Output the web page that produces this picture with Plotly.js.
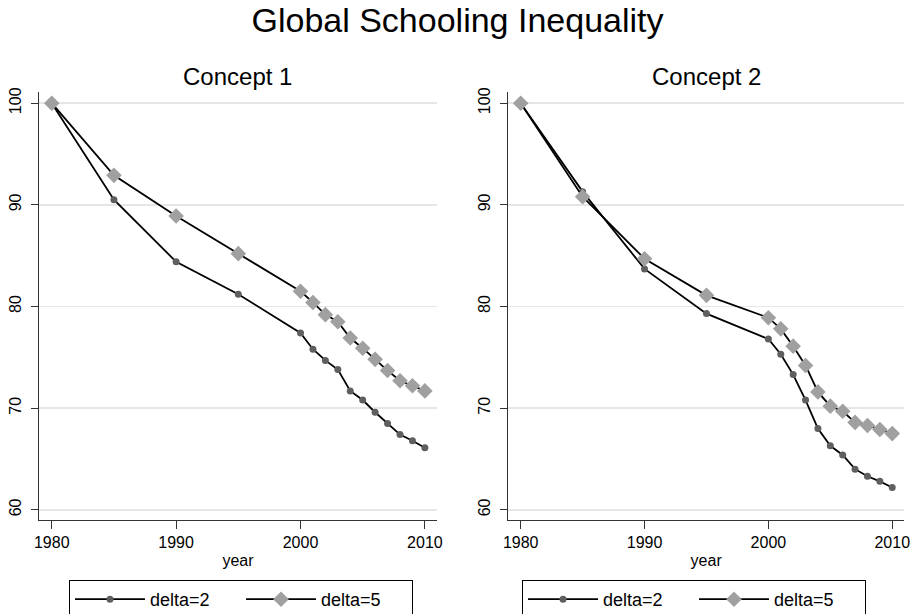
<!DOCTYPE html>
<html>
<head>
<meta charset="utf-8">
<script src="https://cdn.plot.ly/plotly-3.0.1.min.js"></script>
<style>html,body{margin:0;padding:0;background:#fff;}#chart{width:915px;height:614px;}</style>
</head>
<body>
<div id="chart"></div>
<script>
// ---- data ----
const years = [1980, 1985, 1990, 1995, 2000, 2001, 2002, 2003, 2004, 2005, 2006, 2007, 2008, 2009, 2010];
const concept1_delta2 = [100, 90.5, 84.4, 81.2, 77.4, 75.8, 74.7, 73.8, 71.7, 70.8, 69.6, 68.5, 67.4, 66.8, 66.1];
const concept1_delta5 = [100, 92.9, 88.9, 85.2, 81.5, 80.4, 79.2, 78.5, 76.9, 75.9, 74.8, 73.7, 72.7, 72.2, 71.7];
const concept2_delta2 = [100, 91.3, 83.7, 79.3, 76.8, 75.3, 73.3, 70.8, 68.0, 66.3, 65.4, 64.0, 63.3, 62.8, 62.2];
const concept2_delta5 = [100, 90.8, 84.7, 81.1, 78.9, 77.8, 76.1, 74.2, 71.6, 70.2, 69.7, 68.6, 68.3, 67.9, 67.5];
const seriesNames = ["delta=2", "delta=5"];
const panelTitles = ["Concept 1", "Concept 2"];
const mainTitle = "Global Schooling Inequality";
const xTitle = "year";
const xTicks = [1980, 1990, 2000, 2010];
const yTicks = [60, 70, 80, 90, 100];

const FONT = "Arial, 'Liberation Sans', sans-serif";
const lineStyle = {color: "#000000", width: 1.8};
const m2 = {symbol: "circle", size: 7, color: "#5f5f5f"};
const m5 = {symbol: "diamond", size: 12, color: "#a0a0a0"};

function tr(y, name, marker, xa, ya, leg) {
  return {x: years, y: y, name: name, type: "scatter", mode: "lines+markers",
    line: lineStyle, marker: marker, xaxis: xa, yaxis: ya, legend: leg, hoverinfo: "x+y"};
}

const data = [
  tr(concept1_delta2, seriesNames[0], m2, "x", "y", "legend"),
  tr(concept1_delta5, seriesNames[1], m5, "x", "y", "legend"),
  tr(concept2_delta2, seriesNames[0], m2, "x2", "y2", "legend2"),
  tr(concept2_delta5, seriesNames[1], m5, "x2", "y2", "legend2")
];

const W = 915, H = 614;
const yDom = [1 - 520 / H, 1 - 92 / H];
const xDom1 = [39.3 / W, 436.7 / W];
const xDom2 = [508.3 / W, 904 / W];

function xaxis(dom, anchor) {
  return {domain: dom, anchor: anchor, range: [1979.0, 2010.95], tickmode: "array", tickvals: xTicks,
    ticks: "outside", ticklen: 8, tickcolor: "#333", tickwidth: 1, showline: true, linecolor: "#333", linewidth: 1,
    showgrid: false, zeroline: false, automargin: false, tickfont: {family: FONT, size: 16, color: "#000"},
    title: {text: xTitle, font: {family: FONT, size: 16, color: "#000"}, standoff: 4}};
}
function yaxis(anchor) {
  return {domain: yDom, anchor: anchor, range: [59.0, 101.1], tickmode: "array", tickvals: yTicks,
    ticks: "outside", ticklen: 7, tickcolor: "#333", tickwidth: 1, showline: true, linecolor: "#333", linewidth: 1,
    showgrid: true, gridcolor: "#e6e6e6", gridwidth: 1.5, zeroline: false, tickangle: -90, automargin: false,
    ticklabelstandoff: 4, tickfont: {family: FONT, size: 16, color: "#000"}};
}
function legend(x0) {
  return {orientation: "h", x: x0 / W, xanchor: "left", y: 1 - 580 / H, yanchor: "top",
    bordercolor: "#000", borderwidth: 1, bgcolor: "#fff", itemwidth: 70, entrywidth: 86,
    font: {family: FONT, size: 18, color: "#000"}, tracegroupgap: 0};
}

const layout = {
  width: W, height: H, margin: {l: 0, r: 0, t: 0, b: 0, autoexpand: false},
  paper_bgcolor: "#fff", plot_bgcolor: "#fff",
  font: {family: FONT, color: "#000"},
  title: {text: mainTitle, x: 0.5, xanchor: "center", y: 1 - 20 / H, yanchor: "middle",
    font: {family: FONT, size: 34, color: "#000"}},
  xaxis: xaxis(xDom1, "y"), yaxis: yaxis("x"),
  xaxis2: xaxis(xDom2, "y2"), yaxis2: yaxis("x2"),
  legend: legend(69), legend2: legend(522),
  showlegend: true,
  annotations: [
    {text: panelTitles[0], xref: "paper", yref: "paper", x: (xDom1[0] + xDom1[1]) / 2, y: 1 - 76 / H,
      xanchor: "center", yanchor: "middle", showarrow: false, font: {family: FONT, size: 24, color: "#000"}},
    {text: panelTitles[1], xref: "paper", yref: "paper", x: (xDom2[0] + xDom2[1]) / 2, y: 1 - 76 / H,
      xanchor: "center", yanchor: "middle", showarrow: false, font: {family: FONT, size: 24, color: "#000"}}
  ]
};

Plotly.newPlot("chart", data, layout, {displayModeBar: false, staticPlot: true});
</script>
</body>
</html>
